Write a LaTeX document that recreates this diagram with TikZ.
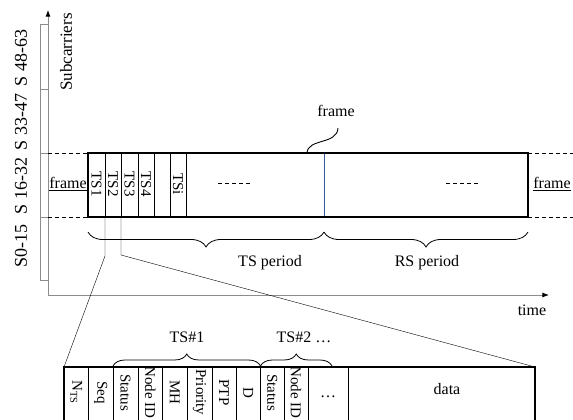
\documentclass[tikz,border=0pt]{standalone}
\usepackage{fontspec}
\setmainfont{Liberation Serif}
\usetikzlibrary{arrows.meta,decorations.pathreplacing}
\definecolor{axisgray}{HTML}{8C8C8C}
\definecolor{cutblue}{HTML}{3A5A98}
\tikzset{>=Latex,line width=.6pt,
  every node/.style={font=\fontsize{16}{18}\selectfont,inner sep=1pt},
  axis/.style={draw=axisgray,line width=.8pt},
  guide/.style={draw,dash pattern=on 4pt off 3pt,line width=.6pt},
  framebox/.style={draw,line width=1.6pt},
  slotline/.style={draw,line width=.8pt},
  fieldline/.style={draw,line width=.9pt},
  brc/.style={decorate,decoration={brace,amplitude=#1},line width=.8pt},
  brc/.default=12pt,
  vlabel/.style={rotate=90,font=\fontsize{18}{20}\selectfont},
  slotlabel/.style={rotate=-90,font=\fontsize{15}{17}\selectfont},
  fieldlabel/.style={rotate=-90,font=\fontsize{15}{17}\selectfont}}
\begin{document}
\begin{tikzpicture}[x=1pt,y=-1pt]
\useasboundingbox(0,0)rectangle(573,420);\clip(0,0)rectangle(573,420);
% subcarrier strip and axes
\draw[axis](40,24)rectangle(48,280);
\foreach \y in {89,153,217}\draw[axis](40,\y)--(48,\y);
\coordinate(o)at(48,295);\coordinate(ytip)at(48,10);\coordinate(xtip)at(549,295);
\draw[axis,-{Latex[black]}](o)--(ytip);\draw[axis,-{Latex[black]}](o)--(xtip);
\node[vlabel](s4)at(21,58){S 48-63};\node[vlabel](s3)at(21,122){S 33-47};
\node[vlabel](s2)at(21,186){S 16-32};\node[vlabel](s1)at(21,246){S0-15};
\node[rotate=90,font=\fontsize{17}{19}\selectfont](sub)at(66,52){Subcarriers};
\node(time)at(532,310){time};
% frame
\draw[guide](48,153)--(88,153);\draw[guide](48,217)--(88,217);
\draw[guide](528,153)--(573,153);\draw[guide](528,217)--(573,217);
\foreach \x in {105,121,138,154,170,186}\draw[slotline](\x,153)--(\x,217);
\draw[cutblue,line width=1pt](324,153)--(324,217);
\draw[framebox](88,153)rectangle(528,217);
\foreach \x/\t [count=\i] in {96.5/TS1,113/TS2,129.5/TS3,146/TS4,178/TSi}\node[slotlabel](ts\i)at(\x,184){\t};
\draw[dash pattern=on 4pt off 3pt](218,183)--(252,183);\draw[dash pattern=on 4pt off 3pt](446,183)--(479,183);
\node(framelt)at(68,184){\underline{frame}};\node(framert)at(552,184){\underline{frame}};
\node(frametop)at(336,111){frame};
\coordinate(ftop)at(307,153);\coordinate(fend)at(338,128);
\draw[line width=.9pt](ftop)..controls(308,138)and(337,145)..(fend);
% periods
\draw[brc=15pt,decoration={mirror}](88,232)--(324,232);\draw[brc=15pt,decoration={mirror}](324,232)--(528,232);
\node(tsper)at(270,263){TS period};\node(rsper)at(427,263){RS period};
% zoomed TS
\coordinate(cutl)at(105,256);\coordinate(cutr)at(121,255);
\coordinate(tl)at(64,367);\coordinate(tr)at(535,367);
\draw(105,217)--(cutl)--(tl);\draw(121,217)--(cutr)--(tr);
\foreach \xa/\xb/\t [count=\i] in {64/88.5/N\textsubscript{TS},88.5/113/Seq,113/138/Status,138/162.5/Node ID,162.5/187/MH,187/212/Priority,212/236/PTP,236/260.5/D,260.5/284/Status,284/308/Node ID}
  {\draw[fieldline](\xa,367)rectangle(\xb,430);\node[fieldlabel](f\i)at({(\xa+\xb)/2},392.5){\t};}
\draw[fieldline](308,367)rectangle(348,430);\node(dots)at(328,397){\dots};
\draw[line width=1.2pt](tl)rectangle(535,430);\node(data)at(447,389){data};
\draw[brc](113,366)--(260.5,366);\draw[brc](260.5,366)--(332,366);
\node(tsa)at(187,337){TS\#1};\node(tsb)at(304,337){TS\#2 \dots};
\end{tikzpicture}
\end{document}
